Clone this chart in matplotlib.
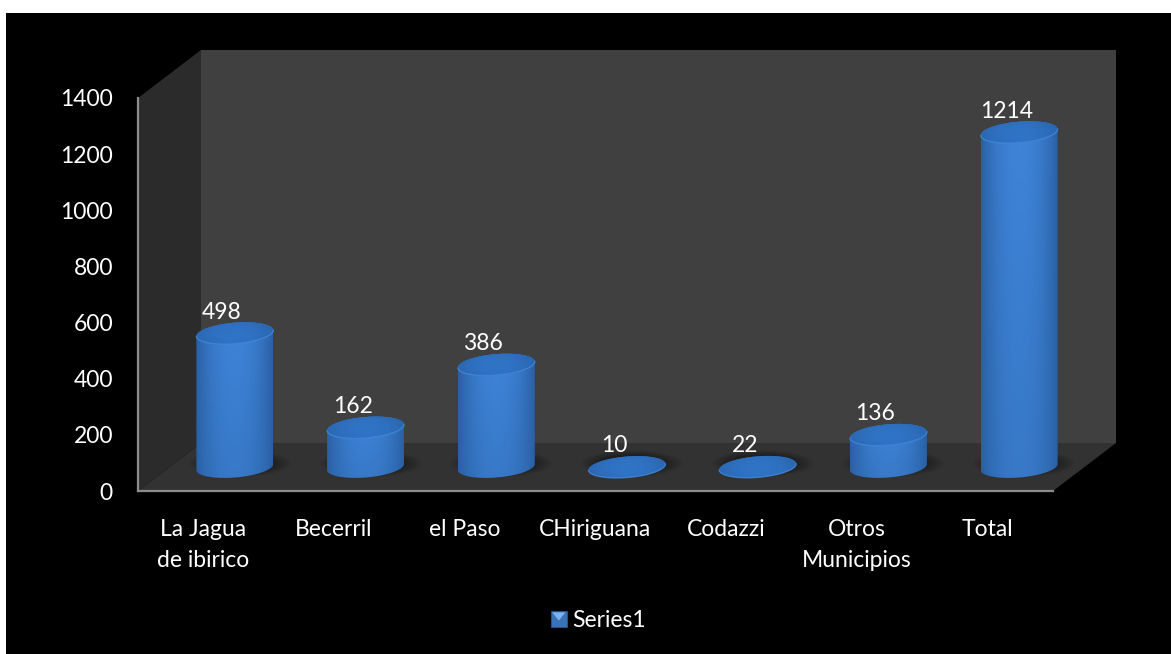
"""
3D looking cylinder chart, drawn on plain 2D axes.
"""

import numpy as np
import matplotlib
matplotlib.use("Agg")
import matplotlib.pyplot as plt
from matplotlib.legend_handler import HandlerBase
from matplotlib.patches import Patch, PathPatch, Polygon, Rectangle
from matplotlib.path import Path

categories = ["La Jagua\nde ibirico", "Becerril", "el Paso", "CHiriguana",
              "Codazzi", "Otros\nMunicipios", "Total"]
values = [498, 162, 386, 10, 22, 136, 1214]
y_ticks = [0, 200, 400, 600, 800, 1000, 1200, 1400]
series_name = "Series1"

plt.rcParams["font.family"] = ["Lato", "DejaVu Sans"]

W, H = 1171, 654
X_LEFT, X_FRONT_RIGHT, X_RIGHT = 138, 1053, 1116
Y_BOTTOM, Y_TICK_TOP, Y_TOP = 491, 98, 50
FONT_SIZE = 16.5

px_x = 7 / (X_FRONT_RIGHT - X_LEFT)
px_y = 1400 / (Y_BOTTOM - Y_TICK_TOP)
depth_x = (X_RIGHT - X_FRONT_RIGHT) * px_x
depth_y = (Y_TICK_TOP - Y_TOP) * px_y

fig = plt.figure(figsize=(W / 100, H / 100), dpi=100, facecolor="white")
fig.add_artist(Rectangle((6 / W, 0), 1 - 6 / W, 1 - 13 / H, zorder=-1,
                         transform=fig.transFigure, fc="black", ec="none"))
ax = fig.add_axes([X_LEFT / W, 1 - Y_BOTTOM / H,
                   (X_RIGHT - X_LEFT) / W, (Y_BOTTOM - Y_TOP) / H])
ax.patch.set_visible(False)

# walls and floor
ax.add_patch(Polygon([(depth_x, depth_y), (7 + depth_x, depth_y),
                      (7 + depth_x, 1400 + depth_y), (depth_x, 1400 + depth_y)],
                     fc="#404040", ec="none", zorder=1))
ax.add_patch(Polygon([(0, 0), (depth_x, depth_y), (depth_x, 1400 + depth_y), (0, 1400)],
                     fc="#2b2b2b", ec="none", zorder=1))
ax.add_patch(Polygon([(0, 0), (7, 0), (7 + depth_x, depth_y), (depth_x, depth_y)],
                     fc="#323232", ec="none", zorder=1))

edge_col = np.array([0x2a, 0x60, 0xa4]) / 255
mid_col = np.array([0x3e, 0x84, 0xd8]) / 255
half_w = 38.5 * px_x
half_h = 10.5 * px_y
tilt = 3.0 * px_y
top_shift = 6 * px_y
base_y = depth_y / 2
t = np.linspace(0, 2 * np.pi, 121)


def ellipse_y(cy, angles):
    return cy + half_h * np.sin(angles) + tilt * np.cos(angles)


def draw_cylinder(cx, value):
    top_y = max(base_y + value - top_shift, base_y)
    tall = top_y > base_y + 1

    # soft shadow on the floor
    gx, gy = np.meshgrid(np.linspace(-1, 1, 120), np.linspace(-1, 1, 60))
    alpha = 0.6 * np.clip(1 - (gx ** 2 + gy ** 2), 0, 1)
    shadow = np.zeros((60, 120, 4))
    shadow[..., 3] = alpha
    ax.imshow(shadow, extent=(cx - half_w * 1.35 + 5 * px_x, cx + half_w * 1.35 + 5 * px_x,
                              base_y - half_h * 1.0, base_y + half_h * 1.5),
              aspect="auto", zorder=2, interpolation="bilinear")

    # body
    if tall:
        low = t[:61] + np.pi
        up = t[:61]
        xs = np.r_[cx + half_w * np.cos(low), cx + half_w * np.cos(up)]
        ys = np.r_[ellipse_y(base_y, low), ellipse_y(top_y, up)]
        body = PathPatch(Path(np.c_[xs, ys]), transform=ax.transData, fc="none", ec="none")
        ax.add_patch(body)
        u = np.linspace(-1, 1, 100)
        v = np.linspace(0, 1, 80)
        ug, vg = np.meshgrid(u, v)
        mix = (1 - np.abs(ug) ** 2.2) * (0.68 + 0.32 * vg)
        img = edge_col + (mid_col - edge_col) * mix[..., None]
        im = ax.imshow(img, origin="lower", aspect="auto", zorder=3,
                       extent=(cx - half_w, cx + half_w, base_y - half_h - tilt, top_y + half_h + tilt))
        im.set_clip_path(body)

    # top cap, with a light rim on its front half only
    xs = cx + half_w * np.cos(t)
    ys = ellipse_y(top_y, t)
    cap = PathPatch(Path(np.c_[xs, ys]), transform=ax.transData, fc="#2b6bb8",
                    ec="none", zorder=4)
    ax.add_patch(cap)
    u, v = np.meshgrid(np.linspace(-1, 1, 80), np.linspace(-1, 1, 40))
    mix = np.clip(1 - 0.8 * (u ** 2 + 0.5 * (v + 0.1) ** 2), 0, 1)
    dark = np.array([0x2a, 0x64, 0xac]) / 255
    light = np.array([0x30, 0x74, 0xc6]) / 255
    img = dark + (light - dark) * mix[..., None]
    im = ax.imshow(img, origin="lower", aspect="auto", zorder=5,
                   extent=(cx - half_w, cx + half_w, top_y - half_h - tilt, top_y + half_h + tilt))
    im.set_clip_path(cap)
    rim = t[61:]
    ax.plot(cx + half_w * np.cos(rim), ellipse_y(top_y, rim), color="#4088dc",
            lw=1.0, alpha=0.8, zorder=6)
    return top_y


positions = np.arange(len(values)) + 0.5
for pos, val in zip(positions, values):
    cx = pos + depth_x / 2
    top = draw_cylinder(cx, val)
    ax.text(cx - 13 * px_x, top + 21 * px_y, str(val), color="white", fontsize=FONT_SIZE,
            ha="center", va="center", zorder=7)

ax.set_xlim(0, 7 + depth_x)
ax.set_ylim(0, 1400 + depth_y)

for side in ["top", "right"]:
    ax.spines[side].set_visible(False)
ax.spines["left"].set_bounds(0, 1400)
ax.spines["bottom"].set_bounds(0, 7)
for side in ["left", "bottom"]:
    ax.spines[side].set_color("#8c8c8c")
    ax.spines[side].set_linewidth(1.6)
    ax.spines[side].set_zorder(8)

ax.set_yticks(y_ticks)
ax.set_xticks(positions)
ax.set_xticklabels(categories, linespacing=1.6)
ax.tick_params(axis="y", length=0, pad=18, colors="white", labelsize=FONT_SIZE)
ax.tick_params(axis="x", length=0, pad=20, colors="white", labelsize=FONT_SIZE)


class BevelHandler(HandlerBase):
    def create_artists(self, legend, orig_handle, xdescent, ydescent, width, height, fontsize, trans):
        x0 = (width - height) / 2 - xdescent
        y0 = -ydescent
        square = Rectangle((x0, y0), height, height, fc="#3a72b8", ec="#2a5c9c", lw=0.5, transform=trans)
        tri = Polygon([(x0 + 1, y0 + height - 1), (x0 + height - 1, y0 + height - 1),
                       (x0 + height / 2, y0 + height * 0.4)], fc="#7ab2f2", ec="none", transform=trans)
        return [square, tri]


fig.legend([Patch()], [series_name], handler_map={Patch: BevelHandler()},
           loc="center", bbox_to_anchor=(598.5 / W, 1 - 620.5 / H), frameon=False,
           labelcolor="white", fontsize=FONT_SIZE, handlelength=0.7, handleheight=0.7,
           handletextpad=0.25)

fig.savefig("out.png", dpi=100, facecolor="white")
